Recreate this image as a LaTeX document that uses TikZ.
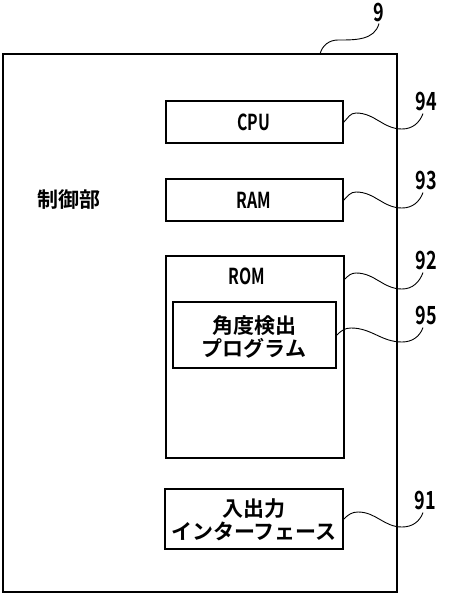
\documentclass[tikz,border=0pt]{standalone}
\usepackage{fontspec}
\newfontfamily\jp{Noto Sans CJK JP}[BoldFont={* Bold}]
\usetikzlibrary{calc}
\tikzset{
  box/.style={draw, line width=1.8pt, inner sep=0pt, minimum width=#1},
  lead/.style={draw, line width=0.9pt},
  numlab/.style={inner sep=0pt, font=\jp\bfseries\fontsize{25}{25}\selectfont},
  jptext/.style={inner sep=0pt, align=center, font=\jp\bfseries\fontsize{21}{23}\selectfont},
  lattext/.style={inner sep=0pt, align=center, font=\jp\bfseries\fontsize{22}{23}\selectfont},
}
\newcommand{\cond}[1]{\scalebox{0.72}[1]{#1}}
\begin{document}
\begin{tikzpicture}[x=1pt,y=-1pt]
\useasboundingbox (0,0) rectangle (448,595);
% outer box
\node[box=394pt, minimum height=538pt] (outer) at (200,323) {};
% inner boxes
\node[box=177pt, minimum height=42pt] (cpu) at (254.5,122) {};
\node[box=177pt, minimum height=42pt] (ram) at (254.5,200) {};
\node[box=178pt, minimum height=202pt] (rom) at (255,357) {};
\node[box=163pt, minimum height=66pt] (prog) at (254.5,335) {};
\node[box=178pt, minimum height=60pt] (io) at (254,519) {};
% texts
\node[lattext] (cputxt) at (254,122) {\cond{CPU}};
\node[lattext] (ramtxt) at (254,200) {\cond{RAM}};
\node[lattext] (romtxt) at (247,276) {\cond{ROM}};
\node[jptext] (progtxt) at (254,337) {角度検出\\プログラム};
\node[jptext] (iotxt) at (254,520) {入出力\\インターフェース};
\node[jptext] (ctrl) at (69,200) {制御部};
% number labels
\node[numlab] (l9) at (379,12) {\cond{9}};
\node[numlab] (l94) at (426,101) {\cond{94}};
\node[numlab] (l93) at (426,180) {\cond{93}};
\node[numlab] (l92) at (426,260) {\cond{92}};
\node[numlab] (l95) at (426,315) {\cond{95}};
\node[numlab] (l91) at (425,500) {\cond{91}};
% leader lines
\coordinate (e9) at ($(l9.south)+(0,2)$);
\coordinate (s9) at (320,54);
\draw[lead] (s9) to[out=75,in=180] (338,40) to[out=0,in=-105] (e9);
\coordinate (e94) at ($(l94.south)+(-3,3)$);
\draw[lead] (cpu.east) to[out=45,in=180] (356,113) to[out=0,in=180] (402,129) to[out=0,in=-110] (e94);
\coordinate (e93) at ($(l93.south)+(-3,3)$);
\draw[lead] (ram.east) to[out=45,in=180] (356,192) to[out=0,in=180] (402,208) to[out=0,in=-110] (e93);
\coordinate (s92) at ($(rom.north east)+(0,24)$);
\coordinate (e92) at ($(l92.south)+(-3,3)$);
\draw[lead] (s92) to[out=45,in=180] (356,273) to[out=0,in=180] (402,289) to[out=0,in=-110] (e92);
\coordinate (e95) at ($(l95.south)+(-3,3)$);
\draw[lead] (prog.east) to[out=45,in=180] (351,328) to[out=0,in=180] (402,342) to[out=0,in=-110] (e95);
\coordinate (e91) at ($(l91.south)+(-2,3)$);
\draw[lead] (io.east) to[out=45,in=180] (358,512) to[out=0,in=180] (402,527) to[out=0,in=-110] (e91);
\end{tikzpicture}
\end{document}
